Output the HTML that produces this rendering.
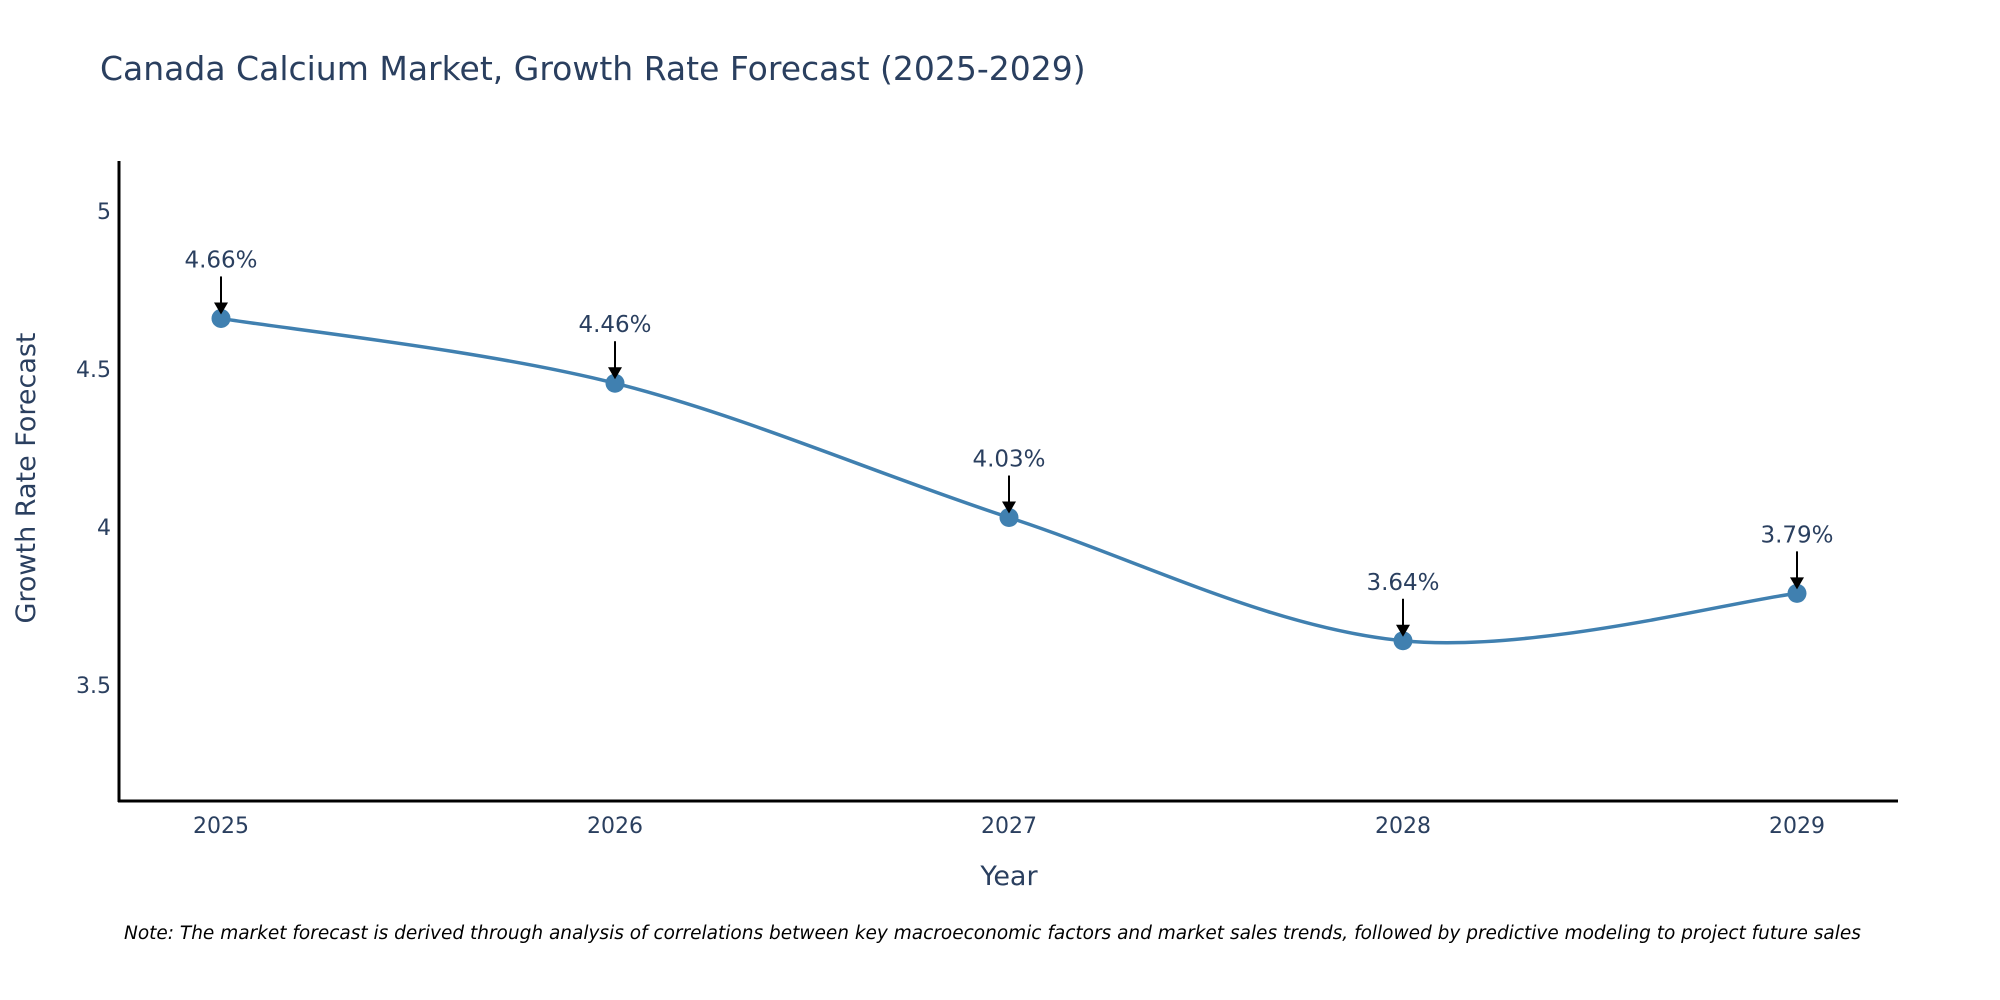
<!DOCTYPE html>
<html><head><meta charset="utf-8"><style>
body{margin:0;background:#fff;}
svg{display:block;font-family:"DejaVu Sans","Liberation Sans",sans-serif;}
</style></head><body>
<svg id="chart" width="2000" height="1000">
<text x="100" y="80" font-size="33" fill="#2a3f5f">Canada Calcium Market, Growth Rate Forecast (2025-2029)</text>
<g id="yticks"></g><g id="xticks"></g>
<line x1="119" y1="161" x2="119" y2="802" stroke="#000" stroke-width="3"/>
<line x1="118" y1="801" x2="1898" y2="801" stroke="#000" stroke-width="3"/>
<path id="line" fill="none" stroke="#4080b0" stroke-width="3.5"/>
<g id="marks"></g>
<text x="1009" y="885" font-size="27" fill="#2a3f5f" text-anchor="middle">Year</text>
<text transform="translate(35,478) rotate(-90)" font-size="27" fill="#2a3f5f" text-anchor="middle">Growth Rate Forecast</text>
<text x="124" y="939" font-size="18.5" font-style="italic" fill="#000">Note: The market forecast is derived through analysis of correlations between key macroeconomic factors and market sales trends, followed by predictive modeling to project future sales</text>
</svg>
<script>
const years = [2025, 2026, 2027, 2028, 2029];
const values = [4.66, 4.455, 4.03, 3.64, 3.79];
const labels = ["4.66%", "4.46%", "4.03%", "3.64%", "3.79%"];
const yTicks = [3.5, 4, 4.5, 5];
const NS = "http://www.w3.org/2000/svg";
const xS = v => 221 + (v - 2025) * 394;
const yS = v => 527 - (v - 4) * 316;
function mk(tag, attrs, parent, text){const e=document.createElementNS(NS,tag);for(const k in attrs)e.setAttribute(k,attrs[k]);if(text!==undefined)e.textContent=text;parent.appendChild(e);return e;}
const yt=document.getElementById('yticks');
yTicks.forEach(t=>{const e=mk('text',{x:111,y:yS(t)+8,'font-size':22,fill:'#2a3f5f','text-anchor':'end'},yt,String(t));

});
const xt=document.getElementById('xticks');
years.forEach(y=>{const e=mk('text',{x:xS(y),y:833,'font-size':22,fill:'#2a3f5f','text-anchor':'middle'},xt,String(y));

});
const pts=years.map((y,i)=>[xS(y),yS(values[i])]);
let d=`M${pts[0][0]},${pts[0][1]}`;
for(let i=0;i<pts.length-1;i++){const p0=pts[Math.max(i-1,0)],p1=pts[i],p2=pts[i+1],p3=pts[Math.min(i+2,pts.length-1)];const t=6;
d+=` C${p1[0]+(p2[0]-p0[0])/t},${p1[1]+(p2[1]-p0[1])/t} ${p2[0]-(p3[0]-p1[0])/t},${p2[1]-(p3[1]-p1[1])/t} ${p2[0]},${p2[1]}`;}
document.getElementById('line').setAttribute('d',d);
const g=document.getElementById('marks');
pts.forEach((p,i)=>{
const c=mk('circle',{cx:p[0],cy:p[1],r:9.5,fill:'#4080b0'},g);


const l=mk('line',{x1:p[0],y1:p[1]-42,x2:p[0],y2:p[1]-14,stroke:'#000','stroke-width':2},g);


const a=mk('polygon',{points:`${p[0]-7},${p[1]-16} ${p[0]+7},${p[1]-16} ${p[0]},${p[1]-4}`,fill:'#000'},g);


const t=mk('text',{x:p[0],y:p[1]-51,'font-size':23,fill:'#2a3f5f','text-anchor':'middle'},g,labels[i]);


});
</script>
</body></html>
